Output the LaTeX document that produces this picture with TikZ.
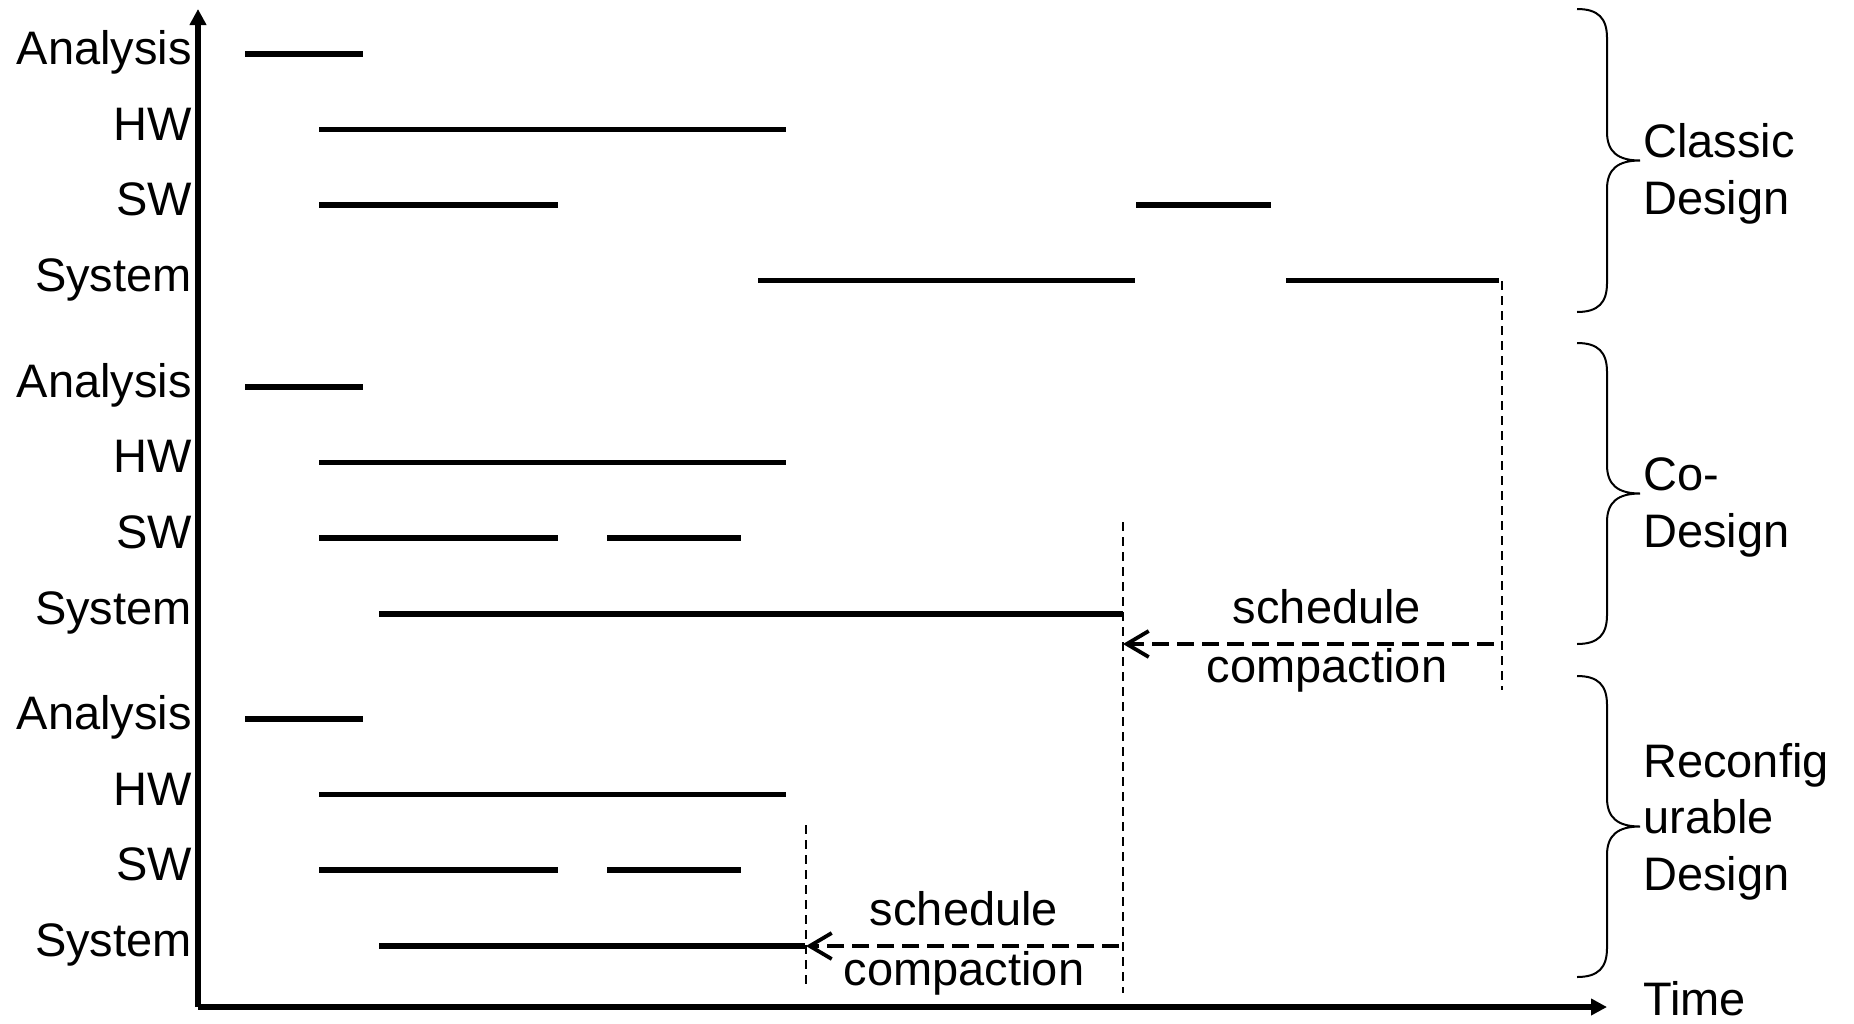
\documentclass[tikz,border=0pt]{standalone}
\usepackage{fontspec}
\setmainfont{Liberation Sans}
\usetikzlibrary{arrows.meta}
\begin{document}
\begin{tikzpicture}[x=1pt,y=-1pt,
  lbl/.style={inner sep=0pt,font=\fontsize{47}{56}\selectfont},
  rowlbl/.style={lbl,anchor=base east},
  grplbl/.style={lbl,anchor=base west},
  bar/.style={line width=5.5pt},
  axis/.style={line width=5.5pt,-{Triangle[length=16pt,width=16pt]}},
  guide/.style={line width=1.8pt,dash pattern=on 9pt off 6pt},
  shift arrow/.style={line width=3.8pt,dash pattern=on 17pt off 8pt,-{Straight Barb[length=22pt,width=26pt,line width=3.8pt]}},
  curly/.style={line width=2pt}]
\useasboundingbox (0,0) rectangle (1854,1023);

% axes
\coordinate (origin) at (198,1007);
\coordinate (ytop) at (198,9);
\coordinate (xend) at (1607,1007);
\draw[axis] (origin) -- (ytop);
\draw[axis] (origin) -- (xend);
\node[grplbl] (time) at (1643,1015) {Time};

% ---- classic design ----
\node[rowlbl] (a1) at (192,64) {Analysis};
\node[rowlbl] (h1) at (192,140) {HW};
\node[rowlbl] (s1) at (192,215) {SW};
\node[rowlbl] (y1) at (192,291) {System};
\draw[bar] (245,54) -- (363,54);
\draw[bar] (319,129.5) -- (786,129.5);
\draw[bar] (319,205) -- (558,205);
\draw[bar] (1136,205) -- (1271,205);
\draw[bar] (758,280.5) -- (1135,280.5);
\draw[bar] (1286,280.5) -- (1499,280.5);

% ---- co-design ----
\node[rowlbl] (a2) at (192,397) {Analysis};
\node[rowlbl] (h2) at (192,472.5) {HW};
\node[rowlbl] (s2) at (192,548) {SW};
\node[rowlbl] (y2) at (192,624) {System};
\draw[bar] (245,387) -- (363,387);
\draw[bar] (319,462.5) -- (786,462.5);
\draw[bar] (319,538) -- (558,538);
\draw[bar] (607,538) -- (741,538);
\draw[bar] (379,614) -- (1123,614);

% ---- reconfigurable design ----
\node[rowlbl] (a3) at (192,729) {Analysis};
\node[rowlbl] (h3) at (192,805) {HW};
\node[rowlbl] (s3) at (192,880.5) {SW};
\node[rowlbl] (y3) at (192,956) {System};
\draw[bar] (245,719) -- (363,719);
\draw[bar] (319,794.5) -- (786,794.5);
\draw[bar] (319,870) -- (558,870);
\draw[bar] (607,870) -- (741,870);
\draw[bar] (379,946) -- (805,946);

% end-of-schedule guides
\draw[guide] (1502,281) -- (1502,690);
\draw[guide] (1123,522) -- (1123,993);
\draw[guide] (806,825) -- (806,987);

% compaction arrows
\coordinate (endA) at (1494,644);
\coordinate (endB) at (1123,644);
\coordinate (endC) at (1119,946);
\coordinate (endD) at (806,946);
\draw[shift arrow] (endA) -- (endB);
\draw[shift arrow] (endC) -- (endD);
\node[lbl,anchor=base] (sc1) at (1327,623) {schedule};
\node[lbl,anchor=base] (cp1) at (1327,682) {compaction};
\node[lbl,anchor=base] (sc2) at (964,925) {schedule};
\node[lbl,anchor=base] (cp2) at (964,985) {compaction};

% group braces
\draw[curly] (1577,9) .. controls (1598,9) and (1607,18) .. (1607,38) -- (1607,132)
  .. controls (1607,152) and (1618,160.5) .. (1640,160.5)
  .. controls (1618,160.5) and (1607,169) .. (1607,189) -- (1607,283)
  .. controls (1607,303) and (1598,312) .. (1577,312);
\draw[curly] (1577,343) .. controls (1598,343) and (1607,352) .. (1607,372) -- (1607,465)
  .. controls (1607,485) and (1618,493.5) .. (1640,493.5)
  .. controls (1618,493.5) and (1607,502) .. (1607,522) -- (1607,615)
  .. controls (1607,635) and (1598,644) .. (1577,644);
\draw[curly] (1577,676) .. controls (1598,676) and (1607,685) .. (1607,705) -- (1607,798)
  .. controls (1607,818) and (1618,826.5) .. (1640,826.5)
  .. controls (1618,826.5) and (1607,835) .. (1607,855) -- (1607,948)
  .. controls (1607,968) and (1598,977) .. (1577,977);

% group names
\node[grplbl] (g1a) at (1643,157) {Classic};
\node[grplbl] (g1b) at (1643,214) {Design};
\node[grplbl] (g2a) at (1643,490) {Co-};
\node[grplbl] (g2b) at (1643,547) {Design};
\node[grplbl] (g3a) at (1643,777) {Reconfig};
\node[grplbl] (g3b) at (1643,833) {urable};
\node[grplbl] (g3c) at (1643,890) {Design};
\end{tikzpicture}
\end{document}
